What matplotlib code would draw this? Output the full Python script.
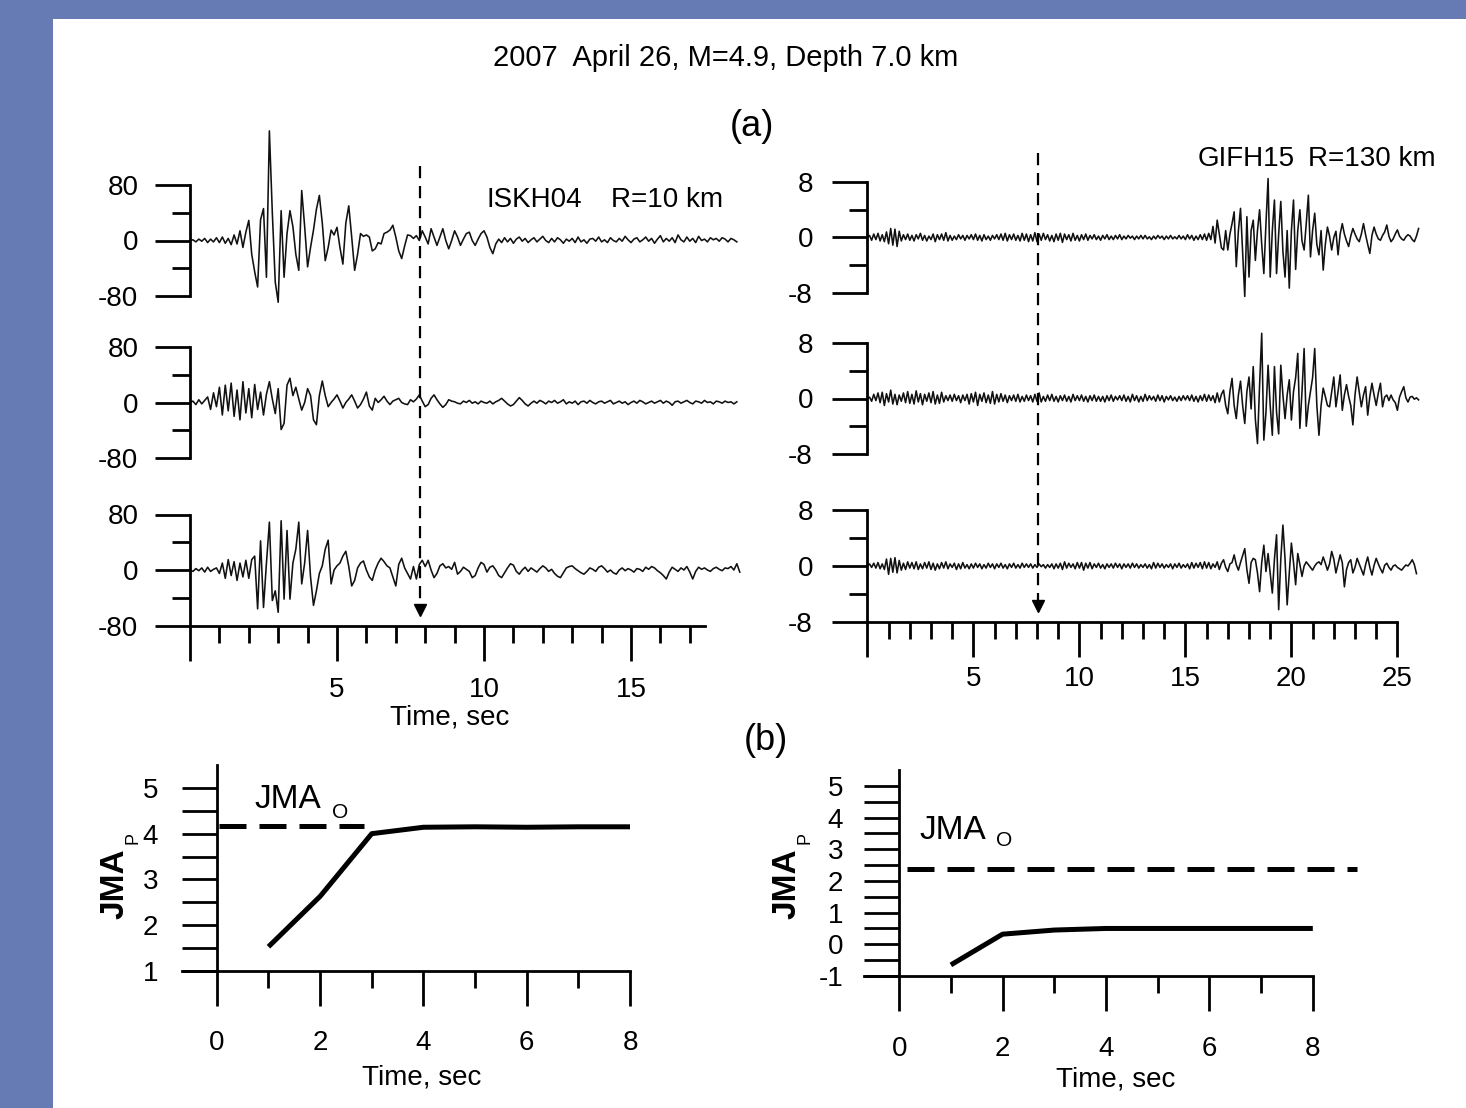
import numpy as np
import matplotlib.pyplot as plt
from matplotlib.patches import Rectangle
import matplotlib.transforms as mtransforms

plt.rcParams['font.family'] = ['Liberation Sans', 'DejaVu Sans']

W, H = 1466, 1108
PT = 72 / 100  # points per pixel at dpi 100
BLUE = '#667ab3'

# === Data ===

DT = 0.1

# ISKH04, R=10 km (three components, gal-like units)
iskh04_1 = [0, 1, -2, 2, -1, 3, -3, 2, -2, 4,
            -3, 5, -4, 3, -6, 8, -5, 14, -10, 12,
            29, -20, -45, -67, 30, 46, -53, 158, 40, -60,
            -89, 43, -53, 10, 43, 20, -20, -43, 72, 20,
            -38, -10, 15, 45, 65, 25, -29, -10, 15, 8,
            19, -10, -34, 25, 50, 5, -43, -20, 10, 6,
            8, 5, -15, -12, -3, -5, 10, 12, 15, 22,
            5, -15, -26, -8, 8, 7, 3, 7, 0, 14,
            5, -5, 17, 5, -7, 5, 17, 0, -12, 0,
            14, 5, -7, 2, 10, 12, 0, -7, 2, 10,
            14, 5, -10, -19, -5, 2, -3, 4, -2, 3,
            -4, 2, 5, -1, 3, -3, 1, 4, -2, 2,
            6, 0, -3, 3, -2, 4, 1, -4, 2, -1,
            3, -3, 5, -2, 1, -4, 2, 3, -1, 5,
            -2, 1, -3, 4, 0, -2, 3, -1, 6, 1,
            -3, 2, 4, -2, 1, 5, -1, 3, -4, 2,
            7, -2, 3, -1, 4, -3, 8, 1, -2, 5,
            -1, 3, -3, 6, 0, 2, -2, 4, 1, 3,
            -1, 4, 2, -2, 3, 1, -2]
iskh04_2 = [0, 2, -3, 4, -2, 3, 8, -10, 14, -6,
            22, -18, 25, -12, 28, -20, 18, -25, 30, -15,
            20, -22, 26, -10, 15, -18, 12, 30, 5, -16,
            20, -39, -30, 25, 35, 10, 22, 5, -11, 0,
            20, 10, -25, -32, 10, 31, 10, -6, 0, 5,
            11, 2, -8, 0, 5, 11, 2, -8, -3, 5,
            15, -5, -11, 6, 0, 4, 9, 2, -3, 2,
            4, 6, 0, -2, -3, 4, 1, 5, 11, 2,
            -6, -3, 6, 11, 4, -2, -7, -3, 4, 2,
            1, -1, -2, 2, 0, 3, -1, 1, -2, 2,
            0, -1, 2, -2, 1, 3, 6, 2, -2, -5,
            -3, 2, 7, 3, -2, -5, -1, 2, -1, 3,
            1, -2, 2, 0, 3, -1, 1, 4, -2, 1,
            -1, 2, -3, 1, 2, -1, 3, 0, -2, 1,
            2, -1, 1, 3, -2, 0, 2, -1, 1, -3,
            0, 2, -1, 3, 1, -2, 0, 2, -1, 1,
            3, -1, 2, 0, -4, 1, 2, -1, 1, 3,
            0, -2, 2, 1, -1, 3, 0, 1, -2, 2,
            1, -1, 2, 0, 1, -2, 1]
iskh04_3 = [0, -2, 2, -1, 3, -3, 4, -2, 1, 3,
            -5, 10, -12, 15, -8, 12, -15, 10, -10, 14,
            -12, 15, 20, -56, 42, -54, 10, 69, -44, -30,
            -61, 71, -42, 57, -42, 10, 30, 69, -20, 10,
            57, -10, -51, -30, -5, 6, 30, 43, -20, 0,
            6, 10, 20, 27, 5, -23, -15, 3, 10, 13,
            0, -10, -15, 0, 10, 17, 12, 6, 3, -10,
            -23, 8, 17, 3, -5, -13, 5, -13, 8, 14,
            5, 14, 0, -11, -5, 6, 9, 3, 5, 1,
            11, -6, -2, 4, 1, -2, -11, -8, 3, 11,
            8, -3, 4, 6, 0, -8, -11, -4, 3, 9,
            7, -2, -6, 0, 4, -2, 3, 0, -3, 2,
            6, 3, -2, 1, -5, -9, -11, -4, 3, 5,
            6, 2, -1, -4, -6, -2, 3, 1, -2, 4,
            6, 2, -3, 0, -4, -6, 0, 3, -1, 2,
            0, -3, 2, 1, -2, 4, 1, 5, 3, -1,
            -4, -8, -13, -3, 4, 1, -2, 3, 0, 5,
            -3, -13, -2, 4, 1, 3, 0, -2, 2, 4,
            1, -1, 3, 2, 5, 0, 9, -3]

# GIFH15, R=130 km
gifh15_1 = [0, .3, -.4, .5, -.3, .6, -.5, .4, -.6, .8,
            -.9, 1.3, -1.1, 1.2, -1.3, .9, -.5, .4, -.3, .5,
            -.4, .3, -.5, .4, -.2, .6, -.4, .3, -.5, .2,
            -.3, .5, -.6, .4, -.3, .5, -.4, .7, -.5, .3,
            -.4, .2, -.3, .4, -.2, .3, -.4, .3, -.2, .4,
            -.3, .5, -.4, .3, -.5, .4, -.3, .2, -.4, .3,
            -.2, .4, -.3, .5, -.4, .6, -.5, .4, -.3, .5,
            -.4, .3, -.5, .6, -.4, .5, -.6, .4, -.5, .7,
            -.6, .5, -.4, .6, -.3, .4, -.5, .3, -.6, .5,
            -.4, .6, -.7, .5, -.3, .4, -.5, .6, -.4, .3,
            -.5, .4, -.3, .5, -.4, .3, -.2, .4, -.3, .2,
            -.4, .3, -.2, .4, -.3, .2, -.3, .3, -.2, .4,
            -.3, .2, -.2, .3, -.1, .2, -.3, .2, -.2, .3,
            -.2, .3, -.2, .1, -.3, .2, -.2, .3, -.1, .2,
            -.3, .2, -.2, .3, -.2, .1, -.2, .3, -.2, .2,
            -.3, .4, -.2, .3, -.4, .2, -.3, .4, -.3, .5,
            -.4, .6, -.3, 1.6, -.8, 2.5, .5, -1.5, -1.8, 1.0,
            -1.8, .5, 2.0, 3.7, -4.2, 1.0, 4.2, -2.0, -8.5, 3.0,
            -5.7, 1.0, 2.5, -3.3, 1.0, 4.0, -1.0, -5.2, 2.0, 8.5,
            -5.7, 1.0, 5.4, -5.2, .5, 5.2, -2.0, -5.7, 1.0, -7.3,
            1.0, 5.4, -4.6, 1.0, 4.0, -.5, -1.8, 2.0, 6.1, -2.8,
            1.0, 3.5, -1.0, -2.5, 1.0, -4.7, -1.0, 1.5, .2, -1.8,
            0.0, .9, -2.5, .5, 2.0, .5, -.5, -1.3, .2, 1.3,
            .5, -.2, -.6, .5, 2.0, .4, -1.0, -2.3, .3, 1.5,
            .5, -.2, -.4, .3, .8, 1.8, .2, -.6, -.2, .5,
            1.1, .2, -.2, -.4, .1, .4, .2, -.3, -.6, .2,
            1.3]
gifh15_2 = [0, .2, -.4, .6, -.3, .8, -.6, .9, -1.0, .7,
            -.5, 1.2, -.8, .6, -.9, .5, -.4, .8, -.6, 1.0,
            -.7, .6, -.8, 1.1, -.5, .7, -.9, .6, -.4, .8,
            -.6, 1.0, -.8, .5, -.7, .9, -.5, .4, -.3, .5,
            -.4, .6, -.3, .4, -.6, .5, -.3, .6, -.8, .7,
            -.5, .9, -1.0, .6, -.4, .8, -.6, .5, -.7, 1.0,
            -.8, .6, -.5, .7, -.4, .5, -.6, .4, -.3, .5,
            -.4, .6, -.5, .3, -.4, .5, -.3, .4, -.5, .6,
            -.4, .8, -.5, .3, -.4, .5, -.3, .6, -.4, .3,
            -.5, .4, -.3, .5, -.4, .3, -.5, .6, -.3, .4,
            -.3, .5, -.4, .3, -.5, .4, -.3, .5, -.4, .3,
            -.4, .3, -.5, .4, -.3, .5, -.4, .3, -.2, .4,
            -.3, .5, -.4, .3, -.5, .6, -.3, .4, -.5, .3,
            -.4, .6, -.3, .4, -.2, .3, -.4, .5, -.3, .4,
            -.5, .3, -.2, .4, -.3, .2, -.4, .3, -.3, .4,
            -.2, .4, -.3, .5, -.4, .3, -.5, .4, -.3, .6,
            -.4, .5, -.3, .4, -.6, .8, -.5, .6, 1.2, -1.0,
            -2.2, 1.0, 2.9, -1.0, -2.9, .5, 2.5, -1.0, -3.6, 1.0,
            3.1, -1.5, 4.6, -3.0, -6.5, 2.0, 9.4, -6.0, -2.0, 4.8,
            -1.0, -5.3, 4.6, -2.0, -5.1, 4.8, .5, -2.9, .5, 2.7,
            -3.1, 1.0, 3.0, 6.5, -4.3, 1.0, 7.2, -4.0, -1.0, 1.0,
            3.0, 7.2, -1.0, -5.3, -1.0, 1.5, .3, -1.0, -1.2, 1.0,
            3.1, -1.2, 1.0, 3.4, -1.7, .5, 2.0, .3, -1.0, -3.8,
            .5, 3.1, 1.0, -1.2, .5, 1.7, -2.4, .3, 2.2, .5,
            -1.0, .8, 2.2, -1.2, .2, .5, -.3, .5, -.2, -.6,
            -1.7, .2, 1.0, 1.7, .1, -.5, .2, .3, -.1, .1,
            -.2]
gifh15_3 = [0, .3, -.2, .4, -.3, .5, -.4, .3, -.5, 1.0,
            -1.2, 1.1, -.9, 1.2, -1.0, .8, -.6, .4, -.5, .6,
            -.3, .5, -.4, .6, -.5, .3, -.4, .5, -.3, .6,
            -.5, .4, -.6, .3, -.4, .5, -.3, .6, -.4, .3,
            -.2, .4, -.5, .3, -.4, .5, -.3, .2, -.4, .3,
            -.3, .4, -.2, .3, -.4, .2, -.3, .4, -.2, .3,
            -.4, .3, -.2, .4, -.3, .2, -.4, .3, -.2, .4,
            -.3, .2, -.3, .4, -.2, .3, -.2, .3, -.3, .2,
            -.2, .3, -.1, .2, -.3, .2, -.2, .3, -.4, .3,
            -.3, .4, -.5, .6, -.3, .4, -.2, .3, -.4, .5,
            -.3, .5, -.6, .4, -.3, .5, -.4, .3, -.2, .4,
            -.3, .2, -.4, .3, -.2, .3, -.3, .4, -.2, .3,
            -.4, .3, -.2, .3, -.3, .4, -.2, .3, -.3, .2,
            -.2, .3, -.3, .2, -.4, .5, -.3, .4, -.2, .3,
            -.3, .2, -.2, .3, -.4, .3, -.2, .4, -.3, .2,
            -.2, .3, -.4, .5, -.3, .4, -.2, .5, -.4, .6,
            -.3, .5, -.4, .3, -.2, .6, -.5, .4, .9, -.2,
            -.8, .3, .5, 1.6, .2, -.6, .5, 1.5, 2.5, -.5,
            -2.5, .5, 1.1, .9, -1.0, -3.7, .5, 3.0, -.8, 1.8,
            -1.0, -3.9, 1.0, 4.5, -6.3, 1.0, 5.9, 1.0, -5.6, -1.0,
            3.3, .5, -2.7, 1.8, .2, -1.5, 0.0, .6, .2, -.2,
            -.6, 0.0, .4, .6, .2, 1.3, .4, -.6, .3, 2.1,
            1.0, -1.0, .3, 1.6, .5, -3.0, -.5, .5, .9, -1.0,
            -.2, 1.1, .3, -.5, -1.3, .2, 1.3, -.2, -1.3, .1,
            1.1, .3, -.4, -1.0, .1, .4, -.2, -.6, 0.0, .15,
            -.2, -.4, -.6, -.2, .15, 0.0, .4, .9, .2, -1.1]

arrival_iskh04 = 7.84   # s, dashed marker
arrival_gifh15 = 8.03

# (b) magnitude estimates vs. time
t_jma = [1, 2, 3, 4, 5, 6, 7, 8]
jma_p_iskh04 = [1.53, 2.63, 4.0, 4.14, 4.15, 4.14, 4.15, 4.15]
jma_o_iskh04 = 4.17
jma_o_iskh04_span = [0.04, 2.85]
jma_p_gifh15 = [-0.65, 0.32, 0.45, 0.5, 0.5, 0.5, 0.5, 0.5]
jma_o_gifh15 = 2.37
jma_o_gifh15_span = [0.15, 8.86]

# === Figure ===

fig = plt.figure(figsize=(W / 100, H / 100), dpi=100)
fig.patch.set_facecolor('white')
fig.patches.append(Rectangle((0, 0), 53 / W, 1, transform=fig.transFigure,
                             facecolor=BLUE, edgecolor='none', zorder=-10))
fig.patches.append(Rectangle((0, 1 - 19 / H), 1, 19 / H, transform=fig.transFigure,
                             facecolor=BLUE, edgecolor='none', zorder=-10))


def px_axes(x0, y0, x1, y1):
    return fig.add_axes([x0 / W, 1 - y1 / H, (x1 - x0) / W, (y1 - y0) / H])


def ftext(x, y, s, **kw):
    return fig.text(x / W, 1 - y / H, s, **kw)


AX_LW = 2.0


def trace_panel(traces, t0px, pps, tmax, zeros, upp, ymax, ylims,
                axis_end, ytick_pad, xlab_pad, arrival, dash_top):
    axes = []
    for k, (vals, zero, ylim) in enumerate(zip(traces, zeros, ylims)):
        ax = px_axes(t0px, zero - ylim[1] * upp, t0px + tmax * pps, zero - ylim[0] * upp)
        ax.patch.set_visible(False)
        t = np.arange(len(vals)) * DT
        ax.plot(t, vals, color='#111111', lw=1.15, clip_on=False)
        ax.set_xlim(0, tmax)
        ax.set_ylim(*ylim)
        for s in ['top', 'right']:
            ax.spines[s].set_visible(False)
        ax.spines['left'].set_bounds(-ymax, ymax)
        ax.spines['left'].set_linewidth(AX_LW)
        ax.set_yticks([-ymax, 0, ymax])
        ax.set_yticklabels(['-%d' % ymax, '0', '%d' % ymax])
        ax.set_yticks([-ymax / 2, ymax / 2], minor=True)
        ax.tick_params(axis='y', which='major', length=35 * PT, width=AX_LW,
                       pad=ytick_pad, labelsize=20)
        ax.tick_params(axis='y', which='minor', length=18 * PT, width=AX_LW)
        if k < len(traces) - 1:
            ax.spines['bottom'].set_visible(False)
            ax.set_xticks([])
        else:
            ax.spines['bottom'].set_bounds(0, axis_end)
            ax.spines['bottom'].set_linewidth(AX_LW)
            major = np.arange(0, axis_end + 0.01, 5)
            ax.set_xticks(major)
            ax.set_xticklabels([''] + ['%d' % v for v in major[1:]])
            ax.set_xticks([v for v in range(int(axis_end) + 1) if v % 5], minor=True)
            ax.tick_params(axis='x', which='major', length=35 * PT, width=AX_LW,
                           pad=xlab_pad, labelsize=20)
            ax.tick_params(axis='x', which='minor', length=17 * PT, width=AX_LW)
        axes.append(ax)
    # arrival marker (dashed line with arrow head)
    ax = axes[-1]
    blend = mtransforms.blended_transform_factory(ax.transData, fig.transFigure)
    tip = zeros[-1] + ymax * upp - 10
    ax.plot([arrival, arrival], [1 - dash_top / H, 1 - (tip - 8) / H], transform=blend,
            color='k', lw=1.6, ls=(0, (5.5, 3.5)), clip_on=False)
    ax.plot([arrival], [1 - (tip - 6) / H], transform=blend, marker='v', ms=9,
            color='k', clip_on=False)
    return axes


trace_panel([iskh04_1, iskh04_2, iskh04_3], 190, 29.4, 19.0,
            [240.5, 402.5, 570.0], 55.5 / 80, 80,
            [(-100, 170), (-100, 100), (-80, 100)], 17.5, 12, 12,
            arrival_iskh04, 166)
trace_panel([gifh15_1, gifh15_2, gifh15_3], 867.4, 21.2, 27.0,
            [237.5, 398.5, 566.0], 55.5 / 8, 8,
            [(-10, 10), (-10, 10), (-8, 10)], 25, 14, 7,
            arrival_gifh15, 153)


def jma_panel(x0, x1, xlo, ytop, ybot, ylo, yhi, jp, jo, jo_span, ylabels,
              ytick_pad, xlab_pad):
    ax = px_axes(x0, ytop, x1, ybot)
    ax.patch.set_visible(False)
    ax.plot(t_jma, jp, color='k', lw=3.6, solid_capstyle='butt', clip_on=False)
    ax.plot(jo_span, [jo, jo], color='k', lw=3.6, ls=(0, (5.4, 2.6)), clip_on=False)
    ax.set_xlim(xlo, 8)
    ax.set_ylim(ylo, yhi)
    for s in ['top', 'right']:
        ax.spines[s].set_visible(False)
    ax.spines['left'].set_position(('data', 0))
    for s in ['left', 'bottom']:
        ax.spines[s].set_linewidth(AX_LW)
    ax.set_xticks([0, 2, 4, 6, 8])
    ax.set_xticks([1, 3, 5, 7], minor=True)
    yt = list(range(int(ylo), int(yhi) + 1))
    ax.set_yticks(yt)
    ax.set_yticklabels(ylabels)
    ax.set_yticks([v + 0.5 for v in yt[:-1]], minor=True)
    ax.tick_params(axis='x', which='major', length=35 * PT, width=AX_LW, pad=xlab_pad,
                   labelsize=20)
    ax.tick_params(axis='x', which='minor', length=17 * PT, width=AX_LW)
    ax.tick_params(axis='y', which='both', length=35 * PT, width=AX_LW,
                   pad=ytick_pad, labelsize=20)
    return ax


axl = jma_panel(182.2, 630.0, -0.67, 765, 971, 1, 5.5, jma_p_iskh04, jma_o_iskh04,
                jma_o_iskh04_span, ['1', '2', '3', '4', '5'], 17, 17)
axr = jma_panel(864.0, 1312.8, -0.68, 770, 976, -1, 5.5, jma_p_gifh15, jma_o_gifh15,
                jma_o_gifh15_span, ['-1', '0', '1', '2', '3', '4', '5'], 15, 18)

axl.text(0.72, 4.74, 'JMA', fontsize=24, va='center', ha='left')
axl.text(2.39, 4.46, 'O', fontsize=15, va='center', ha='center')
axr.text(0.40, 3.6, 'JMA', fontsize=24, va='center', ha='left')
axr.text(2.03, 3.28, 'O', fontsize=15, va='center', ha='center')

# y labels JMA_P
for xc, xp in [(115, 133), (787, 805)]:
    ftext(xc, 884, 'JMA', fontsize=24, fontweight='bold', rotation=90,
          ha='center', va='center')
    ftext(xp, 838, 'P', fontsize=13, rotation=90, ha='center', va='center')

# texts
ftext(726, 58, '2007  April 26, M=4.9, Depth 7.0 km', fontsize=21, ha='center', va='center')
ftext(752, 127, '(a)', fontsize=26, ha='center', va='center')
ftext(766, 740, '(b)', fontsize=26, ha='center', va='center')
ftext(486, 200, 'ISKH04', fontsize=20, ha='left', va='center')
ftext(611, 200, 'R=10 km', fontsize=20, ha='left', va='center')
ftext(1198, 159, 'GIFH15', fontsize=20, ha='left', va='center')
ftext(1308, 159, 'R=130 km', fontsize=20, ha='left', va='center')
ftext(450, 718, 'Time, sec', fontsize=20, ha='center', va='center')
ftext(422, 1078, 'Time, sec', fontsize=20, ha='center', va='center')
ftext(1116, 1080, 'Time, sec', fontsize=20, ha='center', va='center')

plt.savefig('out.png', dpi=100)
